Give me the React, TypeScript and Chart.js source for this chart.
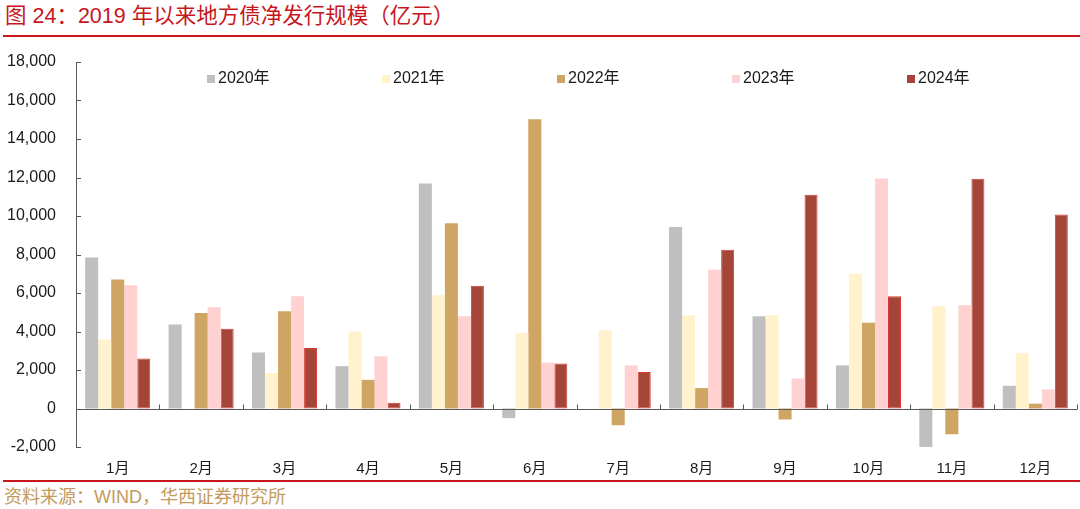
import React, { useEffect, useRef } from "react";
import { Chart, registerables } from "chart.js";

Chart.register(...registerables);

const categories = ["1月", "2月", "3月", "4月", "5月", "6月", "7月", "8月", "9月", "10月", "11月", "12月"];
const seriesNames = ["2020年", "2021年", "2022年", "2023年", "2024年"];
const s2020 = [7840, 4370, 2910, 2200, 11690, -500, 0, 9430, 4790, 2240, -2100, 1180];
const s2021 = [3590, 0, 1840, 4000, 5880, 3920, 4060, 4840, 4860, 7000, 5310, 2880];
const s2022 = [6700, 4960, 5050, 1490, 9625, 15020, -870, 1060, -570, 4450, -1340, 250];
const s2023 = [6400, 5255, 5830, 2710, 4790, 2380, 2240, 7210, 1560, 11950, 5360, 990];
const s2024 = [2600, 4145, 3140, 300, 6380, 2340, 1890, 8250, 11110, 5830, 11930, 10080];
const yTicks = [-2000, 0, 2000, 4000, 6000, 8000, 10000, 12000, 14000, 16000, 18000];

const fills = ["#BFBFBF", "#FFF2CC", "#CEA562", "#FFD1D1", "#A54537"];
const borders = ["#BFBFBF", "#FFF2CC", "#CEA562", "#FFD1D1", "#D83A3A"];

const FONT = '"Liberation Sans", Arial, "Noto Sans CJK SC", sans-serif';

const decorPlugin = {
  id: "decor",
  afterDraw(chart: any) {
    const ctx = chart.ctx;
    const area = chart.chartArea;
    const y = chart.scales.y;
    ctx.save();
    const y0 = Math.round(y.getPixelForValue(0)) + 0.5;
    ctx.strokeStyle = "#595959";
    ctx.lineWidth = 1;
    ctx.beginPath();
    ctx.moveTo(area.left, y0);
    ctx.lineTo(area.right, y0);
    ctx.stroke();
    const n = categories.length;
    const w = (area.right - area.left) / n;
    for (let i = 1; i <= n; i++) {
      const px = Math.round(area.left + i * w) + 0.5;
      ctx.beginPath();
      ctx.moveTo(px, y0);
      ctx.lineTo(px, y0 - 5);
      ctx.stroke();
    }
    for (const v of yTicks) {
      const py = Math.round(y.getPixelForValue(v)) + 0.5;
      ctx.beginPath();
      ctx.moveTo(area.left, py);
      ctx.lineTo(area.left + 5, py);
      ctx.stroke();
    }
    ctx.font = `16px ${FONT}`;
    ctx.textBaseline = "middle";
    ctx.textAlign = "left";
    const ly = 39;
    chart.data.datasets.forEach((ds: any, i: number) => {
      const bx = area.left + 131 + i * 175;
      ctx.fillStyle = ds.backgroundColor;
      ctx.fillRect(bx, ly - 4, 8, 8);
      ctx.fillStyle = "#1a1a1a";
      ctx.fillText(ds.label, bx + 11, ly);
    });
    ctx.restore();
  },
};

export default function App() {
  const ref = useRef<HTMLCanvasElement | null>(null);
  useEffect(() => {
    document.body.style.margin = "0";
    if (!ref.current) return;
    const all = [s2020, s2021, s2022, s2023, s2024];
    const chart = new Chart(ref.current, {
      type: "bar",
      data: {
        labels: categories,
        datasets: all.map((d, i) => ({
          label: seriesNames[i],
          data: d,
          backgroundColor: fills[i],
          borderColor: borders[i],
          borderWidth: i === 4 ? 1 : 0,
          borderSkipped: false,
          categoryPercentage: 0.78,
          barPercentage: 1.0,
        })),
      },
      options: {
        animation: false,
        responsive: false,
        devicePixelRatio: 1,
        layout: { padding: { top: 22, right: 3, left: 0, bottom: 0 } },
        plugins: { legend: { display: false }, title: { display: false }, tooltip: { enabled: false } },
        scales: {
          x: {
            grid: { display: false, drawTicks: false },
            border: { display: false },
            ticks: { color: "#1a1a1a", font: { size: 15, family: FONT }, padding: 13, maxRotation: 0 },
            afterFit: (s: any) => { s.height = 33; },
          },
          y: {
            min: -2000,
            max: 18000,
            afterBuildTicks: (s: any) => { s.ticks = yTicks.map((v) => ({ value: v })); },
            grid: { display: false, drawTicks: false },
            border: { display: true, color: "#595959", width: 1 },
            ticks: {
              color: "#1a1a1a",
              font: { size: 16, family: FONT },
              padding: 20,
              callback: (v: any) => Number(v).toLocaleString("en-US"),
            },
            afterFit: (s: any) => { s.width = 76; s.paddingTop = 0; s.paddingBottom = 0; },
          },
        },
      },
      plugins: [decorPlugin],
    });
    return () => chart.destroy();
  }, []);

  return (
    <div style={{ position: "relative", width: 1080, height: 509, background: "#fff", overflow: "hidden" }}>
      <div style={{ position: "absolute", left: 5, top: 3, fontSize: 21.5, color: "#C8161D", fontFamily: FONT, whiteSpace: "nowrap", lineHeight: "26px" }}>
        图 24：2019 年以来地方债净发行规模（亿元）
      </div>
      <div style={{ position: "absolute", left: 3, top: 35, width: 1077, height: 2, background: "#C8161D" }} />
      <canvas ref={ref} width={1080} height={440} style={{ position: "absolute", left: 0, top: 40 }} />
      <div style={{ position: "absolute", left: 3, top: 480, width: 1077, height: 2, background: "#C8161D" }} />
      <div style={{ position: "absolute", left: 4, top: 486, fontSize: 18, color: "#C39B5E", fontFamily: FONT, whiteSpace: "nowrap", lineHeight: "22px" }}>
        资料来源：WIND，华西证券研究所
      </div>
    </div>
  );
}
